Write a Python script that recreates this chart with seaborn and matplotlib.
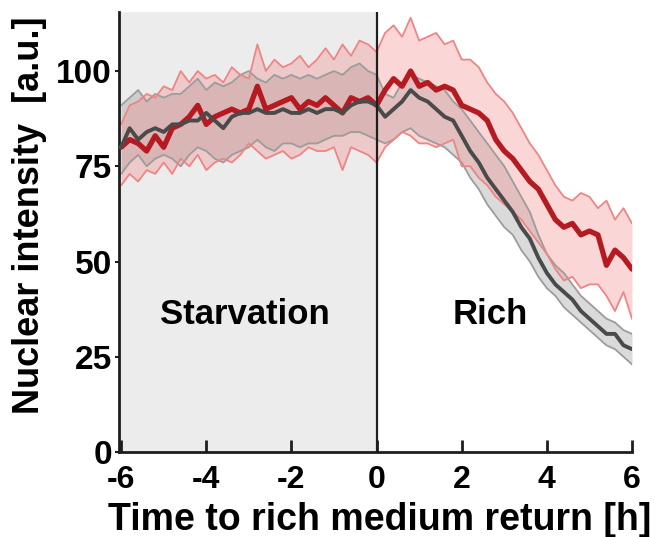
import numpy as np
import pandas as pd
import matplotlib
matplotlib.use("Agg")
import matplotlib.pyplot as plt
import seaborn as sns

# ---------------- data ----------------
time_h = np.round(np.linspace(-6, 6, 61), 2)

red_mean = [80, 82, 81, 79, 83, 80, 85, 86, 88, 91, 86, 88, 89, 90, 89, 90,
            96, 90, 91, 92, 93, 90, 92, 91, 93, 91, 89, 93, 92, 93, 91,
            95, 98, 96, 100, 96, 97, 95, 96, 95, 91, 90, 89, 87, 82, 79,
            77, 74, 71, 69, 65, 61, 59, 60, 57, 58, 57, 49, 53, 51, 48]
red_upper = [86, 91, 92, 94, 93, 96, 95, 100, 97, 100, 98, 99, 97, 101, 99, 98,
             107, 100, 103, 101, 102, 104, 101, 103, 106, 103, 107, 104, 108, 107, 105,
             110, 112, 109, 114, 108, 109, 110, 107, 108, 103, 103, 101, 97, 94, 92,
             89, 85, 81, 78, 74, 70, 67, 66, 68, 67, 64, 66, 61, 64, 60]
red_lower = [70, 73, 71, 74, 73, 76, 73, 77, 75, 78, 74, 76, 77, 76, 78, 81,
             79, 77, 78, 79, 77, 78, 80, 79, 79, 80, 74, 80, 79, 78, 76,
             80, 82, 84, 83, 81, 81, 80, 81, 82, 75, 75, 72, 70, 67, 65,
             63, 61, 58, 55, 52, 48, 45, 46, 43, 44, 44, 41, 37, 42, 35]

gray_mean = [80, 85, 82, 84, 85, 84, 86, 86, 87, 87, 89, 87, 85, 88, 89, 89,
             90, 89, 89, 90, 89, 89, 90, 89, 90, 90, 89, 91, 92, 92, 91,
             88, 90, 92, 95, 93, 92, 90, 88, 87, 83, 79, 76, 72, 69, 66,
             63, 59, 56, 51, 47, 44, 42, 40, 37, 35, 33, 31, 31, 28, 27]
gray_upper = [91, 93, 95, 92, 94, 93, 94, 94, 96, 98, 95, 97, 96, 97, 99, 100,
              98, 97, 99, 98, 99, 98, 99, 98, 99, 100, 99, 101, 102, 100, 99,
              94, 93, 97, 99, 98, 97, 96, 95, 92, 90, 87, 84, 81, 78, 75,
              71, 67, 63, 57, 52, 49, 47, 44, 41, 39, 37, 35, 34, 32, 31]
gray_lower = [73, 76, 78, 75, 77, 78, 77, 75, 78, 80, 79, 77, 76, 78, 79, 80,
              82, 80, 79, 81, 81, 80, 81, 81, 82, 83, 83, 84, 84, 83, 82,
              81, 82, 84, 85, 83, 82, 81, 80, 78, 76, 72, 69, 65, 62, 59,
              57, 53, 50, 46, 43, 41, 38, 36, 34, 32, 30, 28, 27, 25, 23]

x_ticks = [-6, -4, -2, 0, 2, 4, 6]
y_ticks = [0, 25, 50, 75, 100]
phase_labels = ["Starvation", "Rich"]

df = pd.DataFrame({"t": time_h, "red": red_mean, "red_hi": red_upper, "red_lo": red_lower,
                   "gray": gray_mean, "gray_hi": gray_upper, "gray_lo": gray_lower})

# ---------------- style ----------------
sns.set_style("ticks")
plt.rcParams["font.family"] = ["Liberation Sans", "DejaVu Sans"]
plt.rcParams["font.weight"] = "bold"
plt.rcParams["text.color"] = "black"
plt.rcParams["xtick.labelcolor"] = "black"
plt.rcParams["ytick.labelcolor"] = "black"

fig = plt.figure(figsize=(6.55, 5.37), dpi=100)
ax = fig.add_axes([119 / 655, 1 - 452 / 537, 513 / 655, 440 / 537])

ax.set_xlim(-6.05, 6.0)
ax.set_ylim(0, 115.5)

# starvation shading
ax.axvspan(-6.05, 0, color="#ececec", zorder=0, lw=0)

RED = "#b51a20"
RED_EDGE = "#ee8585"
GRAY = "#4a4a4a"
GRAY_EDGE = "#9c9c9c"

ax.fill_between(df["t"], df["gray_lo"], df["gray_hi"], color="#8f8f8f", alpha=0.33, lw=0, zorder=1)
ax.fill_between(df["t"], df["red_lo"], df["red_hi"], color="#f48a8a", alpha=0.35, lw=0, zorder=1.5)

for col in ["gray_hi", "gray_lo"]:
    sns.lineplot(data=df, x="t", y=col, ax=ax, color=GRAY_EDGE, lw=1.3, zorder=2)
for col in ["red_hi", "red_lo"]:
    sns.lineplot(data=df, x="t", y=col, ax=ax, color=RED_EDGE, lw=1.3, zorder=2)

sns.lineplot(data=df, x="t", y="red", ax=ax, color=RED, lw=3.8, zorder=3)
sns.lineplot(data=df, x="t", y="gray", ax=ax, color=GRAY, lw=2.8, zorder=4)

ax.axvline(0, color="#1e1e1e", lw=1.6, zorder=5)

ax.text(-3.1, 36.2, phase_labels[0], ha="center", va="center", fontsize=25, fontweight="bold", color="black")
ax.text(2.68, 36.2, phase_labels[1], ha="center", va="center", fontsize=25, fontweight="bold", color="black")

# axes styling
sns.despine(ax=ax)
for s in ["left", "bottom"]:
    ax.spines[s].set_linewidth(2.0)
    ax.spines[s].set_color("#1e1e1e")

ax.set_xticks(x_ticks)
ax.set_xticklabels([str(v) for v in x_ticks])
ax.set_yticks(y_ticks)
ax.set_yticklabels([str(v) for v in y_ticks])
ax.tick_params(axis="x", direction="in", length=9, width=2, color="#1e1e1e", pad=9, labelsize=23,
               labelcolor="black")
ax.tick_params(axis="y", direction="out", length=3, width=1.5, color="#1e1e1e", pad=2, labelsize=24,
               labelcolor="black")
for lab in ax.get_xticklabels() + ax.get_yticklabels():
    lab.set_fontweight("bold")

ax.set_xlabel("")
ax.set_ylabel("")
fig.text(379.5 / 655, 1 - 520 / 537, "Time to rich medium return [h]", ha="center", va="center",
         fontsize=27, fontweight="bold", color="black")
fig.text(30 / 655, 1 - 215 / 537, "Nuclear intensity  [a.u.]", ha="center", va="center",
         rotation=90, fontsize=26, fontweight="bold", color="black")

fig.savefig("out.png", dpi=100)
